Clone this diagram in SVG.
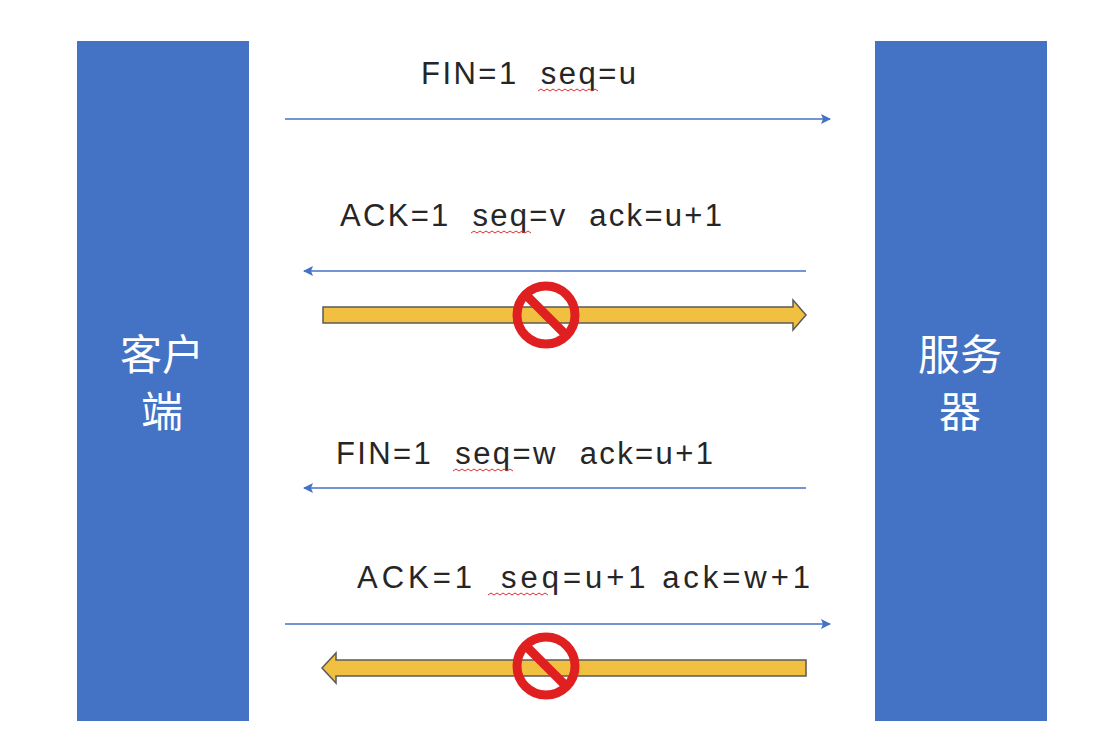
<svg xmlns="http://www.w3.org/2000/svg" width="1106" height="742" viewBox="0 0 1106 742">
<defs>
<style>
.box{fill:#4472C4}
.cn{font-family:"Noto Sans CJK SC","Noto Sans",sans-serif;font-size:42px;fill:#fff}
.lb{font-family:"Liberation Sans","Noto Sans",sans-serif;font-size:31px;fill:#262626;white-space:pre}
.ln{stroke:#4472C4;stroke-width:1.5;fill:none}
.ya{fill:#F2C040;stroke:#5a5a5a;stroke-width:1.5}
.sq{stroke:#e03030;stroke-width:1;fill:none}
</style>
<marker id="ah" viewBox="0 0 10 10" refX="9" refY="5" markerWidth="10" markerHeight="10" markerUnits="userSpaceOnUse" orient="auto">
<path d="M0,0 L10,5 L0,10 L2,5 Z" fill="#4472C4"/>
</marker>
<g id="nosign">
<circle r="29" fill="none" stroke="#E02020" stroke-width="9"/>
<line x1="-20" y1="-20" x2="20" y2="20" stroke="#E02020" stroke-width="9"/>
</g>
</defs>
<rect width="1106" height="742" fill="#fff"/>
<g id="client"><rect class="box" x="77" y="41" width="172" height="680"/>
<text class="cn" x="162" y="370" text-anchor="middle">客户</text>
<text class="cn" x="162" y="427" text-anchor="middle">端</text></g>
<g id="server"><rect class="box" x="875" y="41" width="172" height="680"/>
<text class="cn" x="960" y="370" text-anchor="middle">服务</text>
<text class="cn" x="960" y="427" text-anchor="middle">器</text></g>
<g id="connectors">
<line class="ln" x1="285" y1="119" x2="830" y2="119" marker-end="url(#ah)"/>
<line class="ln" x1="806" y1="271" x2="304" y2="271" marker-end="url(#ah)"/>
<line class="ln" x1="806" y1="488" x2="304" y2="488" marker-end="url(#ah)"/>
<line class="ln" x1="285" y1="624" x2="830" y2="624" marker-end="url(#ah)"/>
<path class="ya" d="M323,307 L793,307 L793,300 L806,315 L793,330 L793,323 L323,323 Z"/>
<path class="ya" d="M806,660 L336,660 L336,653 L322,668 L336,683 L336,676 L806,676 Z"/>
<use href="#nosign" x="546" y="315"/>
<use href="#nosign" x="546" y="666"/>
</g>
<g id="labels" xml:space="preserve">
<text class="lb" x="421" y="84" textLength="215" lengthAdjust="spacing">FIN=1  seq=u</text>
<text class="lb" x="340" y="226" textLength="382" lengthAdjust="spacing">ACK=1  seq=v  ack=u+1</text>
<text class="lb" x="336" y="464" textLength="377" lengthAdjust="spacing">FIN=1  seq=w  ack=u+1</text>
<text class="lb" x="357" y="588" textLength="453" lengthAdjust="spacing">ACK=1  seq=u+1 ack=w+1</text>
<path class="sq" d="M538,91 l3,-2 l3,2 l3,-2 l3,2 l3,-2 l3,2 l3,-2 l3,2 l3,-2 l3,2 l3,-2 l3,2 l3,-2 l3,2 l3,-2 l3,2 l3,-2 l3,2 l3,-2 l3,2"/>
<path class="sq" d="M471,233 l3,-2 l3,2 l3,-2 l3,2 l3,-2 l3,2 l3,-2 l3,2 l3,-2 l3,2 l3,-2 l3,2 l3,-2 l3,2 l3,-2 l3,2 l3,-2 l3,2 l3,-2 l3,2"/>
<path class="sq" d="M453,471 l3,-2 l3,2 l3,-2 l3,2 l3,-2 l3,2 l3,-2 l3,2 l3,-2 l3,2 l3,-2 l3,2 l3,-2 l3,2 l3,-2 l3,2 l3,-2 l3,2 l3,-2 l3,2"/>
<path class="sq" d="M488,595 l3,-2 l3,2 l3,-2 l3,2 l3,-2 l3,2 l3,-2 l3,2 l3,-2 l3,2 l3,-2 l3,2 l3,-2 l3,2 l3,-2 l3,2 l3,-2 l3,2 l3,-2 l3,2"/>
</g>
</svg>
